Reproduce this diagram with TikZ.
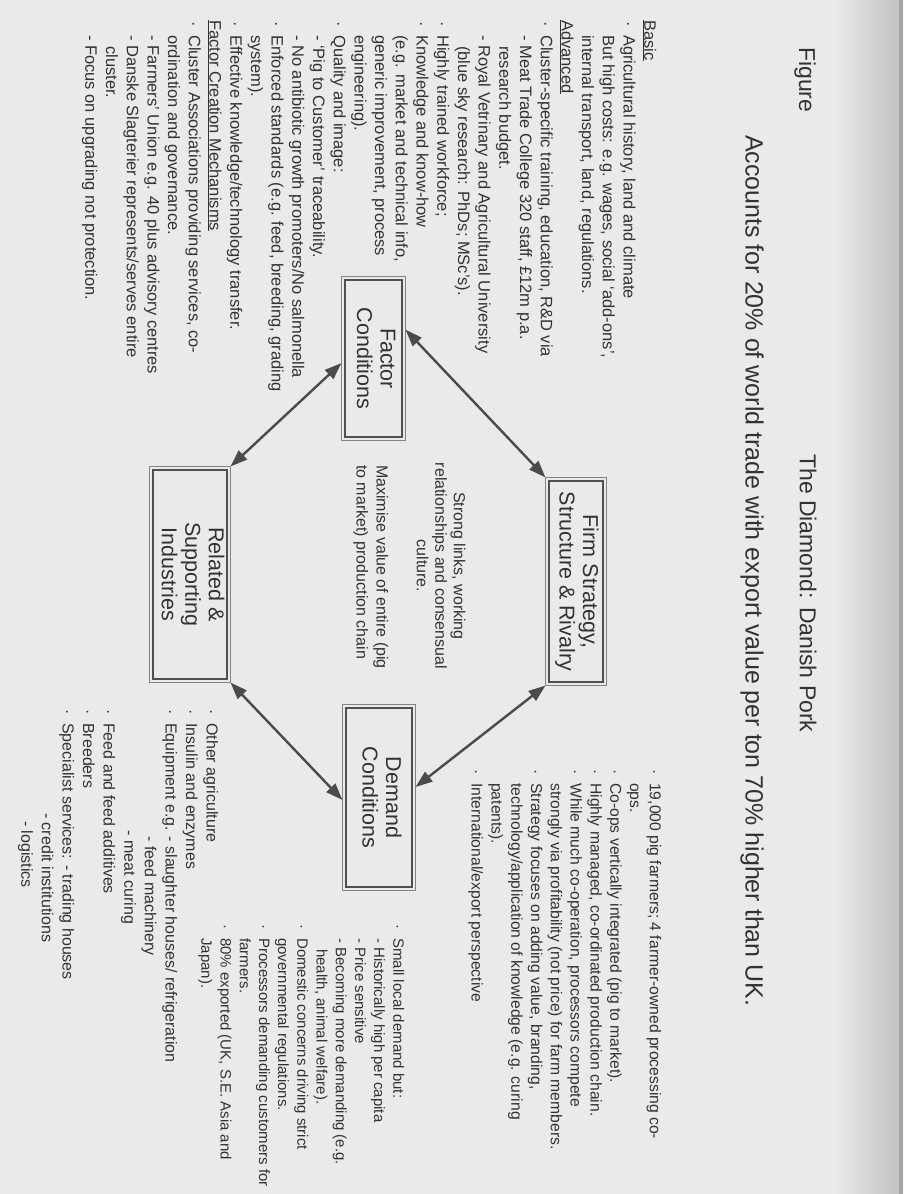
\documentclass[tikz,border=0pt]{standalone}
\usepackage{fontspec}
\usepackage{graphicx}
\setmainfont{Liberation Sans}
\usetikzlibrary{arrows.meta}
\definecolor{paper}{RGB}{234,234,232}
\definecolor{ink}{RGB}{50,50,50}
\definecolor{boxline}{RGB}{80,80,80}
\definecolor{arrowc}{RGB}{75,75,75}
\newcommand\bl{\makebox[15pt][l]{\hspace{1pt}·}}
\newcommand\ind{\hspace*{15pt}}
\begin{document}
\begin{tikzpicture}[x=1pt,y=-1pt,
  txt/.style={rotate=-90, anchor=north west, inner sep=0pt, align=left, text=ink,
    font=\fontsize{16}{20.7}\selectfont, execute at begin node={\rule{0pt}{12pt}}},
  ttl/.style={rotate=-90, anchor=west, inner sep=0pt, text=ink, font=\fontsize{23}{26}\selectfont},
  boxn/.style={draw=boxline, line width=2.6pt, inner sep=0pt, outer sep=3.5pt, text=ink,
    font=\fontsize{21.5}{23.5}\selectfont},
  outerline/.style={draw=boxline!70, line width=0.8pt},
  biarrow/.style={draw=arrowc, line width=2.4pt,
    {Triangle[length=17pt,width=12pt]}-{Triangle[length=17pt,width=12pt]}}
]
\fill[paper] (0,0) rectangle (903,1194);
\shade[left color=paper, right color=gray!50] (835,0) rectangle (903,1194);
\fill[gray!70] (899,0) rectangle (903,1194);
\useasboundingbox (0,0) rectangle (903,1194);

% titles
\node[ttl] (fig) at (805,47) {Figure};
\node[ttl, font=\fontsize{25}{28}\selectfont] (acc) at (752,135)
  {Accounts for 20\% of world trade with export value per ton 70\% higher than UK.};
\node[ttl] (diam) at (808,454) {The Diamond: Danish Pork};

% boxes
\node[boxn, minimum width=57pt, minimum height=157pt] (F) at (373.5,358.5)
  {\rotatebox{-90}{\begin{tabular}{@{}c@{}}Factor\\Conditions\end{tabular}}};
\node[boxn, minimum width=54pt, minimum height=201pt] (FS) at (576,581.5)
  {\rotatebox{-90}{\begin{tabular}{@{}c@{}}Firm Strategy,\\Structure \& Rivalry\end{tabular}}};
\node[boxn, minimum width=74pt, minimum height=209pt] (R) at (190,574.5)
  {\rotatebox{-90}{\begin{tabular}{@{}c@{}}Related \&\\Supporting\\Industries\end{tabular}}};
\node[boxn, minimum width=66pt, minimum height=179pt] (D) at (379,797.5)
  {\rotatebox{-90}{\begin{tabular}{@{}c@{}}Demand\\Conditions\end{tabular}}};
\foreach \n in {F,FS,R,D} \draw[outerline] (\n.north west) rectangle (\n.south east);

% arrows
\draw[biarrow] (F.42) -- (FS.north west);
\draw[biarrow] (F.188) -- (R.north east);
\draw[biarrow] (R.south east) -- (D.184);
\draw[biarrow] (FS.south west) -- (D.16);

% factor conditions text
\node[txt, font=\fontsize{16.5}{20.7}\selectfont] (fctext) at (656.5,20) {\underline{Basic}\\
\bl Agricultural history, land and climate\\
\ind But high costs: e.g. wages, social `add-ons',\\
\ind internal transport, land, regulations.\\
\underline{Advanced}\\
\bl Cluster-specific training, education, R\&D via\\
\ind - Meat Trade College 320 staff, £12m p.a.\\
\hspace*{26pt}research budget.\\
\ind - Royal Vetrinary and Agricultural University\\
\hspace*{26pt}(blue sky research: PhDs; MSc's).\\
\bl Highly trained workforce;\\
\bl Knowledge and know-how\\
\ind (e.g. market and technical info,\\
\ind generic improvement, process\\
\ind engineering).\\
\bl Quality and image:\\
\ind - `Pig to Customer' traceability.\\
\ind - No antibiotic growth promoters/No salmonella\\
\bl Enforced standards (e.g. feed, breeding, grading\\
\ind system).\\
\bl Effective knowledge/technology transfer.\\
\underline{Factor Creation Mechanisms}\\
\bl Cluster Associations providing services, co-\\
\ind ordination and governance.\\
\ind - Farmers' Union e.g. 40 plus advisory centres\\
\ind - Danske Slagterier represents/serves entire\\
\hspace*{26pt}cluster.\\
\ind - Focus on upgrading not protection.};

% firm strategy text
\node[txt, font=\fontsize{15.7}{19.8}\selectfont] (fstext) at (661.5,768) {\bl 19,000 pig farmers; 4 farmer-owned processing co-\\
\ind ops.\\
\bl Co-ops vertically integrated (pig to market).\\
\bl Highly managed, co-ordinated production chain.\\
\bl While much co-operation, processors compete\\
\ind strongly via profitability (not price) for farm members.\\
\bl Strategy focuses on adding value, branding,\\
\ind technology/application of knowledge (e.g. curing\\
\ind patents).\\
\bl International/export perspective};

% demand text
\node[txt, font=\fontsize{15}{19.2}\selectfont] (dtext) at (404.5,923) {\bl Small local demand but:\\
\ind - Historically high per capita\\
\ind - Price sensitive\\
\ind - Becoming more demanding (e.g.\\
\hspace*{26pt}health, animal welfare).\\
\bl Domestic concerns driving strict\\
\ind governmental regulations.\\
\bl Processors demanding customers for\\
\ind farmers.\\
\bl 80\% exported (UK, S.E. Asia and\\
\ind Japan).};

% related text
\node[txt, font=\fontsize{16}{20.6}\selectfont] (rtext) at (218.5,708) {\bl Other agriculture\\
\bl Insulin and enzymes\\
\bl Equipment e.g. - slaughter houses/ refrigeration\\
\ind\phantom{Equipment e.g. }- feed machinery\\
\ind\phantom{Equipment e.g.}- meat curing\\
\bl Feed and feed additives\\
\bl Breeders\\
\bl Specialist services: - trading houses\\
\hspace*{105pt}- credit institutions\\
\hspace*{113pt}- logistics};

% middle notes
\node[txt, anchor=center, align=center, font=\fontsize{16}{18.5}\selectfont] (links) at (441,566)
  {Strong links, working\\relationships and consensual\\culture.};
\node[txt, font=\fontsize{16}{20}\selectfont] (chain) at (388.5,465)
  {Maximise value of entire (pig\\to market) production chain};
\end{tikzpicture}
\end{document}
